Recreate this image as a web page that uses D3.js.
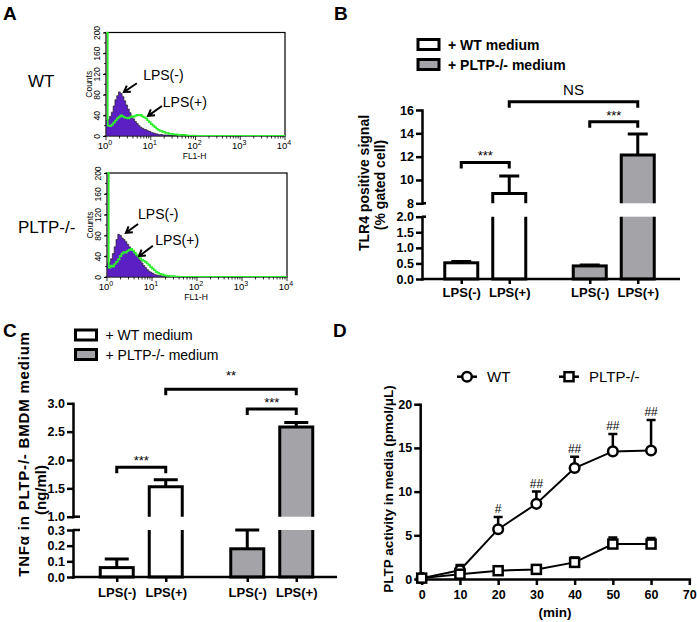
<html>
<head>
  <script src="https://d3js.org/d3.v7.min.js"></script>
  <style>
    body { margin: 0; background: #fff; }
    text { font-family: "Liberation Sans", Arial, Helvetica, sans-serif; }
  </style>
</head>
<body>
<svg id="fig" width="697" height="622"></svg>
<script>
// ---------- panel A : flow cytometry histograms ----------
// x positions are log10(FL1-H), counts read off the plots
const histLog = [0.00, 0.04, 0.08, 0.12, 0.16, 0.20, 0.24, 0.28, 0.32, 0.36, 0.40, 0.44, 0.48,
                 0.52, 0.56, 0.60, 0.64, 0.68, 0.72, 0.76, 0.80, 0.84, 0.88, 0.92, 0.96, 1.00,
                 1.04, 1.08, 1.12, 1.16, 1.20, 1.26, 1.32, 1.40, 1.50, 1.60, 1.80, 2.00, 4.00];
const wtNeg = [30, 32, 38, 46, 58, 70, 78, 85, 82, 76, 68, 60, 52, 45, 38, 33, 28, 24, 20, 17, 15, 13, 12,
               10, 9, 7, 6, 5, 4, 3, 3, 2, 2, 1, 1, 0, 0, 0, 0];
const wtPos = [200, 20, 19, 22, 26, 30, 34, 37, 40, 38, 36, 35, 34, 36, 38, 37, 39, 41, 40, 41, 38, 36, 34,
               30, 27, 23, 20, 17, 14, 12, 10, 8, 6, 4, 3, 2, 1, 0.5, 0.5];
const koNeg = [25, 28, 35, 45, 58, 72, 82, 80, 75, 72, 68, 63, 58, 55, 51, 47, 42, 37, 32, 27, 22, 18, 14,
               11, 9, 7, 5, 4, 3, 3, 2, 2, 1, 1, 0.5, 0, 0, 0, 0];
const koPos = [200, 18, 22, 20, 25, 29, 34, 40, 45, 48, 47, 50, 52, 54, 51, 47, 43, 39, 36, 33, 31, 29, 26,
               23, 19, 16, 13, 10, 8, 6, 5, 3, 2, 1.5, 1, 0.5, 0.5, 0.5, 0.5];
const countTicks = [0, 40, 80, 120, 160, 200];
const decadeTicks = [1, 10, 100, 1000, 10000];
// arrow annotations: [log10 x, count]
const notesWT = [
  {label: "LPS(-)", head: [0.40, 85], tail: [0.69, 102], text: [0.83, 108]},
  {label: "LPS(+)", head: [0.94, 39], tail: [1.25, 58], text: [1.27, 56]}
];
const notesKO = [
  {label: "LPS(-)", head: [0.42, 85], tail: [0.69, 102], text: [0.69, 112]},
  {label: "LPS(+)", head: [0.71, 40], tail: [1.02, 60], text: [1.07, 62]}
];

// ---------- panels B and C : bar charts with broken axis ----------
const mediumKeys = ["WT", "PLTP"];
const lpsLabels = ["LPS(-)", "LPS(+)"];
const legendLabels = ["+ WT medium", "+ PLTP-/- medium"];

const tlr4Mean = [0.52, 8.85, 0.42, 12.15];
const tlr4Err = [0.04, 1.5, 0.03, 1.8];
const tlr4UpperTicks = [8, 10, 12, 14, 16];
const tlr4LowerTicks = [0, 0.5, 1.0, 1.5, 2.0];
const tlr4Brackets = [
  {a: 0, b: 1, level: 11.5, label: "***"},
  {a: 2, b: 3, level: 15.0, label: "***"},
  {a: 1, b: 3, level: 16.7, label: "NS"}
];

const tnfMean = [0.06, 1.53, 0.18, 2.58];
const tnfErr = [0.055, 0.12, 0.12, 0.08];
const tnfUpperTicks = [1.0, 1.5, 2.0, 2.5, 3.0];
const tnfLowerTicks = [0.0, 0.1, 0.2, 0.3];
const tnfBrackets = [
  {a: 0, b: 1, level: 1.87, label: "***"},
  {a: 2, b: 3, level: 2.90, label: "***"},
  {a: 1, b: 3, level: 3.25, label: "**"}
];

// ---------- panel D : PLTP activity over time ----------
const minutes = [0, 10, 20, 30, 40, 50, 60];
const wtAct = [0.1, 1.0, 5.7, 8.6, 12.7, 14.6, 14.7];
const wtActErr = [0.1, 0.6, 1.4, 1.4, 1.3, 2.0, 3.5];
const koAct = [0.1, 0.55, 0.95, 1.1, 1.9, 4.0, 4.0];
const koActErr = [0.05, 0.1, 0.1, 0.1, 0.55, 0.75, 0.7];
const actMarks = ["", "", "#", "##", "##", "##", "##"];
const minTicks = [0, 10, 20, 30, 40, 50, 60, 70];
const actTicks = [0, 5, 10, 15, 20];
const seriesNames = ["WT", "PLTP-/-"];

const svg = d3.select("#fig");
const FONT = '"Liberation Sans", Arial, Helvetica, sans-serif';
const GRAY = "#a4a4a8";
const PURPLE = "#5c1fc4";
const GREEN = "#2ef02e";

function styleAxis(g, size, weight, sw) {
  g.attr("font-family", FONT);
  g.select(".domain").attr("stroke-width", sw).attr("stroke-linecap", "square");
  g.selectAll(".tick line").attr("stroke-width", sw);
  g.selectAll(".tick text").style("font-size", size + "px").style("font-weight", weight).attr("fill", "#000");
}

function arrow(g, x1, y1, x2, y2) {
  const ang = Math.atan2(y2 - y1, x2 - x1), L = 7, s = 0.55;
  g.append("path")
    .attr("d", "M" + x1 + "," + y1 + "L" + x2 + "," + y2 +
      "M" + (x2 - L * Math.cos(ang - s)) + "," + (y2 - L * Math.sin(ang - s)) +
      "L" + x2 + "," + y2 +
      "L" + (x2 - L * Math.cos(ang + s)) + "," + (y2 - L * Math.sin(ang + s)))
    .attr("fill", "none").attr("stroke", "#000").attr("stroke-width", 2);
}

// panel letters
[["A", 3, 20], ["B", 334, 20], ["C", 3, 337], ["D", 333, 337]].forEach(d => {
  svg.append("text").attr("x", d[1]).attr("y", d[2]).text(d[0])
    .style("font-size", "19px").style("font-weight", "bold");
});

// ================= panel A =================
function histPanel(o) {
  const x = d3.scaleLog().domain([1, 1e4]).range([o.x0, o.x1]);
  const y = d3.scaleLinear().domain([0, 200]).range([o.y1, o.y0]);
  const g = svg.append("g");
  const lx = l => x(Math.pow(10, l));

  g.append("clipPath").attr("id", o.id).append("rect")
    .attr("x", o.x0).attr("y", o.y0 - 1).attr("width", o.x1 - o.x0).attr("height", o.y1 - o.y0 + 1);
  g.append("rect").attr("x", o.x0).attr("y", o.y0).attr("width", o.x1 - o.x0).attr("height", o.y1 - o.y0)
    .attr("fill", "#fff").attr("stroke", "#000").attr("stroke-width", 1.2);

  const hg = g.append("g").attr("clip-path", "url(#" + o.id + ")");
  hg.append("path").datum(histLog.map((l, i) => [l, o.neg[i]]))
    .attr("d", d3.area().x(d => lx(d[0])).y0(y(0)).y1(d => y(d[1])).curve(d3.curveStepAfter))
    .attr("fill", PURPLE).attr("stroke", "#222").attr("stroke-width", 0.7);
  hg.append("path").datum(histLog.map((l, i) => [l, o.pos[i]]))
    .attr("d", d3.line().x(d => lx(d[0])).y(d => y(d[1])).curve(d3.curveStepAfter))
    .attr("fill", "none").attr("stroke", GREEN).attr("stroke-width", 1.7);

  // y axis
  const ya = g.append("g").attr("transform", "translate(" + o.x0 + ",0)")
    .call(d3.axisLeft(y).tickValues(countTicks).tickSize(3).tickSizeOuter(0));
  styleAxis(ya, 8.5, "normal", 1);
  ya.select(".domain").remove();
  ya.selectAll(".tick text").attr("transform", "rotate(-90)").attr("x", 0).attr("y", -6)
    .attr("dy", 0).style("text-anchor", "middle");
  g.append("g").attr("transform", "translate(" + o.x0 + ",0)")
    .selectAll("line").data(y.ticks(10)).join("line")
    .attr("x1", -2).attr("x2", 0).attr("y1", d => y(d)).attr("y2", d => y(d))
    .attr("stroke", "#000").attr("stroke-width", 0.8);
  g.append("text").attr("transform", "translate(" + (o.x0 - 14) + "," + ((o.y0 + o.y1) / 2) + ") rotate(-90)")
    .attr("text-anchor", "middle").style("font-size", "8.5px").text("Counts");

  // x axis (log)
  g.append("g").selectAll("line").data(x.ticks()).join("line")
    .attr("x1", d => x(d)).attr("x2", d => x(d)).attr("y1", o.y1)
    .attr("y2", d => decadeTicks.includes(d) ? o.y1 + 4 : o.y1 + 2.5)
    .attr("stroke", "#000").attr("stroke-width", 0.8);
  const xl = g.append("g").selectAll("text").data(decadeTicks).join("text")
    .attr("x", d => x(d) - 1).attr("y", o.y1 + 13).attr("text-anchor", "middle")
    .style("font-size", "9.5px");
  xl.append("tspan").text("10");
  xl.append("tspan").attr("dy", -4).style("font-size", "7px").text(d => Math.round(Math.log10(d)));
  g.append("text").attr("x", (o.x0 + o.x1) / 2 - 1).attr("y", o.y1 + 23).attr("text-anchor", "middle")
    .style("font-size", "8.5px").text("FL1-H");

  // annotations
  o.notes.forEach(n => {
    arrow(g, lx(n.tail[0]), y(n.tail[1]), lx(n.head[0]), y(n.head[1]));
    g.append("text").attr("x", lx(n.text[0])).attr("y", y(n.text[1])).style("font-size", "14px").text(n.label);
  });

  g.append("text").attr("x", o.labelX).attr("y", (o.y0 + o.y1) / 2 + o.labelDy)
    .style("font-size", "17px").text(o.label);
}

histPanel({id: "clipA1", x0: 106, x1: 285, y0: 32.5, y1: 136, neg: wtNeg, pos: wtPos,
           notes: notesWT, label: "WT", labelX: 28, labelDy: 3});
histPanel({id: "clipA2", x0: 107, x1: 287, y0: 173, y1: 277, neg: koNeg, pos: koPos,
           notes: notesKO, label: "PLTP-/-", labelX: 18, labelDy: 8});

// ================= panels B and C =================
function brokenBarPanel(o) {
  const g = svg.append("g");
  const keys = [];
  mediumKeys.forEach(m => lpsLabels.forEach(l => keys.push(m + "|" + l)));
  const cx = d3.scaleOrdinal().domain(keys)
    .range(keys.map(k => o.xg(k.split("|")[0]) + o.xi(k.split("|")[1])));
  const loMax = o.lo.domain()[1], hiMin = o.hi.domain()[0];
  const yv = v => v <= loMax ? o.lo(v) : o.hi(v);
  const base = o.lo(0), hw = o.barW / 2, SW = 3;

  // y axes, two segments
  [[o.hi, o.upperTicks], [o.lo, o.lowerTicks]].forEach(s => {
    const a = g.append("g").attr("transform", "translate(" + o.axisX + ",0)")
      .call(d3.axisLeft(s[0]).tickValues(s[1]).tickSize(6).tickSizeOuter(0).tickPadding(2)
        .tickFormat(o.fmt));
    styleAxis(a, o.tickFont, "bold", 2.5);
  });
  [o.hi(hiMin), o.lo(loMax)].forEach(yy => {
    g.append("line").attr("x1", o.axisX).attr("x2", o.axisX + o.stub).attr("y1", yy).attr("y2", yy)
      .attr("stroke", "#000").attr("stroke-width", 2.5);
  });

  // bars
  keys.forEach((k, i) => {
    const x = cx(k), m = o.mean[i], fill = i < 2 ? "#fff" : GRAY;
    if (m <= loMax) {
      g.append("rect").attr("x", x - hw).attr("y", o.lo(m)).attr("width", o.barW).attr("height", base - o.lo(m))
        .attr("fill", fill).attr("stroke", "#000").attr("stroke-width", SW);
    } else {
      g.append("rect").attr("x", x - hw).attr("y", o.lo(loMax)).attr("width", o.barW)
        .attr("height", base - o.lo(loMax)).attr("fill", fill);
      g.append("path").attr("d", "M" + (x - hw) + "," + o.lo(loMax) + "V" + base + "H" + (x + hw) + "V" + o.lo(loMax))
        .attr("fill", "none").attr("stroke", "#000").attr("stroke-width", SW);
      g.append("rect").attr("x", x - hw).attr("y", o.hi(m)).attr("width", o.barW)
        .attr("height", o.hi(hiMin) - o.hi(m)).attr("fill", fill);
      g.append("path").attr("d", "M" + (x - hw) + "," + o.hi(hiMin) + "V" + o.hi(m) + "H" + (x + hw) + "V" + o.hi(hiMin))
        .attr("fill", "none").attr("stroke", "#000").attr("stroke-width", SW);
    }
    const y0 = yv(m), y1 = yv(m + o.err[i]);
    g.append("path").attr("d", "M" + x + "," + y0 + "V" + y1 + "M" + (x - o.capW / 2) + "," + y1 + "H" + (x + o.capW / 2))
      .attr("fill", "none").attr("stroke", "#000").attr("stroke-width", SW);
  });

  // x axis
  const xa = g.append("g").attr("transform", "translate(0," + base + ")")
    .call(d3.axisBottom(cx).tickSize(5).tickPadding(o.xPad).tickFormat(d => d.split("|")[1]));
  styleAxis(xa, 13, "bold", 2.5);
  xa.select(".domain").remove();
  g.append("line").attr("x1", o.axisX).attr("x2", o.axisEnd).attr("y1", base).attr("y2", base)
    .attr("stroke", "#000").attr("stroke-width", 2.5);

  // significance brackets
  o.brackets.forEach(b => {
    const xa1 = cx(keys[b.a]), xb1 = cx(keys[b.b]), yy = yv(b.level);
    g.append("path").attr("d", "M" + xa1 + "," + (yy + 6) + "V" + yy + "H" + xb1 + "V" + (yy + 6))
      .attr("fill", "none").attr("stroke", "#000").attr("stroke-width", 3);
    const ns = b.label === "NS";
    g.append("text").attr("x", (xa1 + xb1) / 2).attr("y", ns ? yy - 7 : yy - (b.label === "**" ? 9 : 2))
      .attr("text-anchor", "middle").style("font-size", ns ? "15px" : "13px").text(b.label);
  });

  // legend
  legendLabels.forEach((t, i) => {
    const ly = o.legY + i * o.legStep;
    g.append("rect").attr("x", o.legX).attr("y", ly).attr("width", 21).attr("height", 10)
      .attr("fill", i ? GRAY : "#fff").attr("stroke", "#000").attr("stroke-width", 3);
    g.append("text").attr("x", o.legX + 30).attr("y", ly + 10).style("font-size", "14px")
      .style("font-weight", o.legWeight).text(t);
  });

  // y title
  o.title.forEach(t => {
    g.append("text").attr("transform", "translate(" + t[1] + "," + t[2] + ") rotate(-90)")
      .attr("text-anchor", "middle").style("font-size", o.titleFont + "px").style("font-weight", "bold")
      .style("letter-spacing", (t[3] || 0) + "px")
      .text(t[0]);
  });
}

brokenBarPanel({
  xg: d3.scalePoint().domain(mediumKeys).range([421, 678]).padding(0.5),
  xi: d3.scalePoint().domain(lpsLabels).range([-24, 24]),
  hi: d3.scaleLinear().domain([8, 16]).range([203.3, 110]),
  lo: d3.scaleLinear().domain([0, 2]).range([279, 216.7]),
  mean: tlr4Mean, err: tlr4Err, upperTicks: tlr4UpperTicks, lowerTicks: tlr4LowerTicks,
  fmt: d => Number.isInteger(d) && d >= 8 ? d : d3.format(".1f")(d),
  brackets: tlr4Brackets, barW: 33, capW: 20, axisX: 422, axisEnd: 680, stub: 4,
  tickFont: 12.5, xPad: 4,
  legX: 418, legY: 39.5, legStep: 20, legWeight: "bold",
  title: [["TLR4 positive signal", 369, 183], ["(% gated cell)", 385, 185]], titleFont: 14
});

brokenBarPanel({
  xg: d3.scalePoint().domain(mediumKeys).range([76, 337]).padding(0.5),
  xi: d3.scalePoint().domain(lpsLabels).range([-24.5, 24.5]),
  hi: d3.scaleLinear().domain([1, 3]).range([516.7, 403.3]),
  lo: d3.scaleLinear().domain([0, 0.3]).range([577, 530]),
  mean: tnfMean, err: tnfErr, upperTicks: tnfUpperTicks, lowerTicks: tnfLowerTicks,
  fmt: d3.format(".1f"),
  brackets: tnfBrackets, barW: 33, capW: 24, axisX: 73, axisEnd: 337, stub: 7,
  tickFont: 12.5, xPad: 6,
  legX: 75.5, legY: 330, legStep: 19.5, legWeight: "normal",
  title: [["TNF\u03b1  in PLTP-/- BMDM medium", 29, 454, 0.8], ["(ng/ml)", 45.5, 490]], titleFont: 15
});

// ================= panel D =================
(function () {
  const g = svg.append("g");
  const x = d3.scaleLinear().domain([0, 70]).range([421.7, 689.3]);
  const y = d3.scaleLinear().domain([0, 20]).range([579, 404.2]);

  const xa = g.append("g").attr("transform", "translate(0," + y(0) + ")")
    .call(d3.axisBottom(x).tickValues(minTicks).tickSize(6).tickSizeOuter(0).tickPadding(5));
  styleAxis(xa, 12.5, "bold", 2.5);
  const ya = g.append("g").attr("transform", "translate(" + (x(0) - 1.5) + ",0)")
    .call(d3.axisLeft(y).tickValues(actTicks).tickSize(6).tickSizeOuter(0).tickPadding(2));
  styleAxis(ya, 12.5, "bold", 2.5);

  g.append("text").attr("x", 555).attr("y", 616.5).attr("text-anchor", "middle")
    .style("font-size", "13.5px").style("font-weight", "bold").text("(min)");
  g.append("text").attr("transform", "translate(393,489) rotate(-90)").attr("text-anchor", "middle")
    .style("font-size", "13.5px").style("font-weight", "bold").text("PLTP activity in media (pmol/\u03bcL)");

  const series = [
    {vals: wtAct, err: wtActErr, shape: "circle"},
    {vals: koAct, err: koActErr, shape: "square"}
  ];
  series.forEach(s => {
    g.append("path").datum(minutes.map((m, i) => [m, s.vals[i]]))
      .attr("d", d3.line().x(d => x(d[0])).y(d => y(d[1])))
      .attr("fill", "none").attr("stroke", "#000").attr("stroke-width", 2);
    minutes.forEach((m, i) => {
      const yt = y(s.vals[i] + s.err[i]);
      g.append("path").attr("d", "M" + x(m) + "," + y(s.vals[i]) + "V" + yt + "M" + (x(m) - 4.5) + "," + yt + "H" + (x(m) + 4.5))
        .attr("fill", "none").attr("stroke", "#000").attr("stroke-width", 2.5);
    });
  });
  function marker(shape, cx, cy) {
    if (shape === "circle") {
      g.append("circle").attr("cx", cx).attr("cy", cy).attr("r", 4.8)
        .attr("fill", "#fff").attr("stroke", "#000").attr("stroke-width", 2.5);
    } else {
      g.append("rect").attr("x", cx - 4.5).attr("y", cy - 4.5).attr("width", 9).attr("height", 9)
        .attr("fill", "#fff").attr("stroke", "#000").attr("stroke-width", 2.5);
    }
  }
  series.forEach(s => minutes.forEach((m, i) => marker(s.shape, x(m), y(s.vals[i]))));

  // significance marks above WT error bars
  minutes.forEach((m, i) => {
    if (!actMarks[i]) return;
    g.append("text").attr("x", x(m)).attr("y", y(wtAct[i] + wtActErr[i]) - 4).attr("text-anchor", "middle")
      .style("font-size", "12px").text(actMarks[i]);
  });

  // legend
  seriesNames.forEach((n, i) => {
    const lx = 467 + i * 102, ly = 376.7;
    g.append("line").attr("x1", lx - 10).attr("x2", lx + 10).attr("y1", ly).attr("y2", ly)
      .attr("stroke", "#000").attr("stroke-width", 2.5);
    marker(series[i].shape, lx, ly);
    g.append("text").attr("x", lx + 20).attr("y", ly + 5.5).style("font-size", "15px").text(n);
  });
})();
</script>
</body>
</html>
